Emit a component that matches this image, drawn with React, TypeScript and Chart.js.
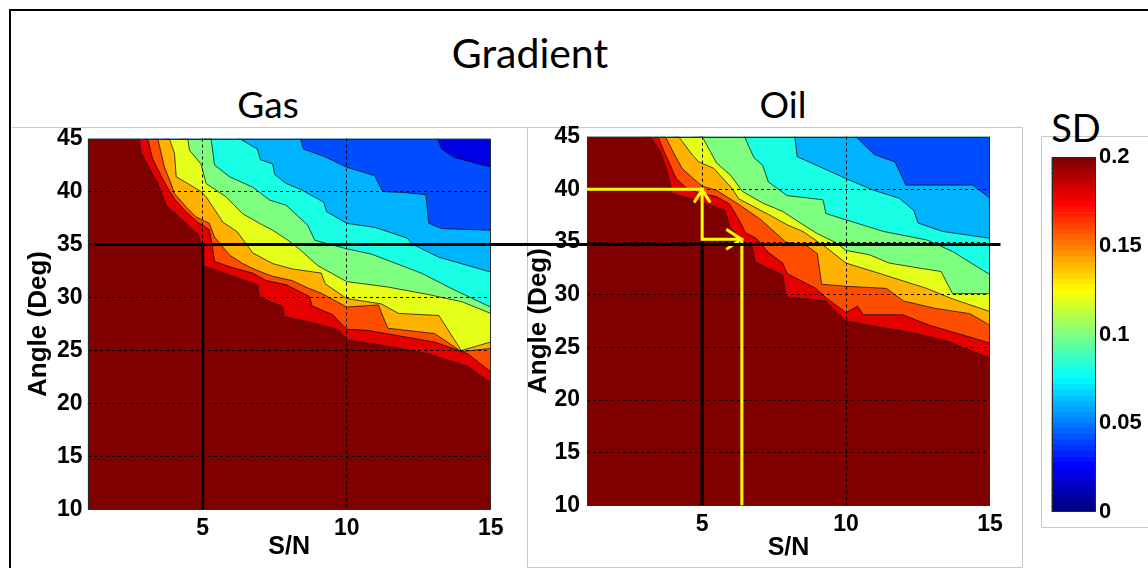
import React, { useEffect, useRef } from 'react';
import { Chart, registerables } from 'chart.js';

Chart.register(...registerables);

type Pt = [number, number];

// Axis ranges and ticks
const snMin = 1;
const snMax = 15;
const angleMin = 10;
const angleMax = 45;
const snTicks = [5, 10, 15];
const sdTicks = [0, 0.05, 0.1, 0.15, 0.2];
const sdMax = 0.2;

// Contour levels of SD (each boundary: angle above which SD falls below the level)
const contourLevels = [0.2, 0.18, 0.16, 0.14, 0.12, 0.1, 0.08, 0.06, 0.04];

// Gas: [S/N, angle] along each SD contour
const gasSd20: Pt[] = [[1, 46], [2.8, 45], [2.86, 43.7], [3.09, 42.5], [3.44, 40.8], [3.73, 38.7], [4.19, 37.6], [4.83, 36.0], [4.94, 35.1], [5.0, 33.0], [5.35, 32.7], [6.27, 31.8], [6.91, 31.2], [6.97, 30.1], [7.78, 29.1], [7.84, 28.2], [8.66, 27.7], [9.7, 27.0], [10.05, 26.0], [11.43, 25.4], [12.82, 24.7], [14.21, 23.5], [15, 22.0]];
const gasSd18: Pt[] = [[1, 46], [3.09, 45], [3.26, 43.1], [3.55, 41.5], [3.79, 40.3], [4.02, 39.3], [4.42, 38.1], [4.83, 37.1], [5.23, 36.4], [5.32, 35.1], [5.41, 33.4], [5.93, 32.9], [6.74, 32.3], [7.2, 31.6], [7.9, 31.2], [8.7, 30.1], [8.8, 29.2], [9.5, 28.4], [10.0, 27.0], [10.74, 26.9], [11.78, 26.4], [13.05, 25.8], [14.2, 24.7], [15, 23.0]];
const gasSd16: Pt[] = [[1, 46], [3.44, 45], [3.67, 42.3], [3.9, 40.75], [4.02, 39.8], [4.42, 38.55], [4.77, 37.6], [5.23, 37.0], [5.41, 35.7], [5.93, 34.0], [6.39, 33.2], [6.85, 32.6], [7.43, 32.0], [8.1, 31.6], [8.65, 30.9], [9.12, 30.4], [10.0, 29.1], [11.1, 29.3], [11.26, 28.2], [11.43, 27.1], [13.05, 26.6], [13.98, 24.9], [15, 25.2]];
const gasSd14: Pt[] = [[1, 46], [3.84, 45], [4.02, 43.6], [4.08, 41.4], [4.94, 40.0], [5.12, 39.5], [5.7, 37.1], [6.2, 36.2], [6.74, 34.2], [7.43, 33.2], [8.1, 32.7], [9.12, 32.3], [9.25, 31.3], [10.0, 29.9], [11.2, 29.4], [11.8, 28.5], [13.2, 28.3], [13.98, 25.0], [15, 25.8]];
const gasSd12: Pt[] = [[1, 46], [4.48, 45], [4.54, 43.9], [4.94, 42.6], [5.12, 40.75], [5.81, 39.5], [6.39, 37.9], [6.97, 37.0], [7.43, 36.35], [7.96, 35.4], [8.3, 34.7], [9.0, 33.0], [10.0, 31.5], [11.4, 31.0], [12.8, 30.3], [14.0, 29.6], [15, 28.5]];
const gasSd10: Pt[] = [[1, 46], [5.29, 45], [5.41, 42.5], [5.93, 41.4], [6.74, 40.4], [7.32, 39.2], [7.9, 38.7], [8.1, 38.2], [8.65, 36.8], [8.89, 35.4], [9.99, 34.6], [10.85, 34.1], [11.43, 33.5], [12.59, 32.3], [13.75, 30.7], [15, 29.1]];
const gasSd08: Pt[] = [[1, 46], [6.2, 45.3], [6.27, 45], [6.9, 44.0], [7.0, 43.0], [7.43, 42.6], [7.5, 41.6], [7.9, 40.75], [8.4, 40.2], [9.2, 39.0], [9.3, 38.1], [10.0, 37.0], [11.0, 36.6], [12.1, 35.6], [12.3, 35.0], [13.2, 33.8], [15, 32.4]];
const gasSd06: Pt[] = [[1, 46], [8.3, 45.5], [8.4, 45], [8.5, 44.0], [9.23, 43.3], [9.99, 42.3], [10.97, 41.5], [11.25, 40.0], [12.0, 39.9], [12.75, 39.7], [12.85, 37.0], [13.3, 36.5], [15, 36.35]];
const gasSd04: Pt[] = [[1, 46], [13.0, 46], [13.3, 44.0], [13.75, 43.2], [15, 42.3]];

// Oil: [S/N, angle] along each SD contour
const oilSd20: Pt[] = [[1, 46], [3.2, 45], [3.55, 43.6], [3.75, 42.0], [3.9, 40.5], [3.95, 39.6], [5.0, 38.8], [5.8, 38.0], [5.95, 36.5], [6.38, 35.0], [6.75, 34.5], [6.85, 33.1], [7.3, 32.5], [7.8, 31.9], [7.92, 29.8], [9.3, 29.4], [10.0, 27.5], [11.0, 27.0], [12.3, 26.4], [13.5, 25.6], [15, 24.0]];
const oilSd18: Pt[] = [[1, 46], [3.46, 45], [3.66, 43.7], [3.89, 42.3], [4.1, 41.0], [4.5, 40.0], [5.0, 39.6], [5.5, 39.3], [5.95, 38.6], [6.3, 37.0], [6.5, 35.9], [6.9, 35.3], [7.3, 34.0], [7.8, 33.0], [7.95, 32.0], [8.95, 30.6], [9.3, 29.7], [10.0, 28.3], [10.4, 28.9], [10.6, 28.1], [11.96, 28.1], [12.9, 27.1], [14.4, 25.9], [15, 25.4]];
const oilSd16: Pt[] = [[1, 46], [3.72, 45], [4.0, 43.5], [4.3, 42.0], [4.7, 41.0], [5.0, 40.3], [5.5, 39.9], [6.2, 38.7], [7.0, 37.2], [7.5, 36.0], [7.9, 35.0], [8.6, 34.7], [9.0, 33.9], [9.15, 31.0], [10.0, 30.8], [11.4, 30.6], [12.0, 29.4], [13.1, 28.7], [14.3, 28.2], [15, 27.1]];
const oilSd14: Pt[] = [[1, 46], [4.18, 45], [4.65, 43.3], [4.88, 42.6], [5.4, 42.0], [6.03, 40.1], [6.27, 39.1], [7.31, 37.6], [7.98, 36.6], [8.5, 36.0], [9.3, 34.5], [10.0, 33.0], [11.3, 31.9], [12.8, 30.6], [13.7, 29.6], [15, 28.4]];
const oilSd12: Pt[] = [[1, 46], [5.0, 45], [5.3, 43.5], [5.5, 42.5], [6.0, 41.3], [6.4, 39.8], [7.1, 38.7], [7.8, 37.9], [8.3, 37.0], [9.0, 35.8], [9.6, 35.0], [10.0, 34.2], [10.8, 33.8], [11.5, 33.0], [12.6, 32.5], [13.3, 32.2], [13.7, 30.1], [15, 30.1]];
const oilSd10: Pt[] = [[1, 46], [6.4, 45.5], [6.6, 44.2], [6.8, 43.0], [7.1, 42.3], [7.3, 40.7], [7.95, 39.4], [8.6, 39.2], [9.2, 39.0], [9.3, 37.7], [10.0, 37.1], [11.3, 36.0], [12.8, 35.2], [13.7, 34.1], [15, 31.9]];
const oilSd08: Pt[] = [[1, 46], [8.2, 45.5], [8.3, 43.1], [9.97, 41.05], [10.92, 39.94], [11.85, 39.15], [12.35, 38.0], [12.5, 36.8], [13.35, 36.0], [15, 35.35]];
const oilSd06: Pt[] = [[1, 46], [10.2, 45.5], [10.34, 45], [10.98, 43.3], [11.7, 42.6], [12.08, 40.4], [14.4, 40.4], [15, 39.15]];

// Reference guides: 35 deg / S/N 5 (black), oil read-off path (yellow)
const guideAngle = 35;
const guideSn = 5;
const gasGuideH: Pt[] = [[1.23, guideAngle], [32.7, guideAngle]];
const gasGuideV: Pt[] = [[guideSn, guideAngle], [guideSn, angleMin]];
const oilGuideV: Pt[] = [[guideSn, guideAngle], [guideSn, angleMin]];
const oilPath: Pt[] = [[1, 40], [5, 40], [5, 35.25], [6.38, 35.25], [6.38, 10]];
const oilArrowUp: Pt[] = [[4.72, 38.75], [5, 39.95], [5.28, 38.75]];
const oilArrowRight: Pt[] = [[5.84, 36.2], [6.36, 35.25], [5.84, 34.3]];

// Colour bar resolution
const colorSteps = 64;

function clamp01(v: number) {
  return Math.max(0, Math.min(1, v));
}

function jet(t: number) {
  const u = clamp01(t);
  const r = clamp01(Math.min(4 * u - 1.5, -4 * u + 4.5));
  const g = clamp01(Math.min(4 * u - 0.5, -4 * u + 3.5));
  const b = clamp01(Math.min(4 * u + 0.5, -4 * u + 2.5));
  return `rgb(${Math.round(r * 255)},${Math.round(g * 255)},${Math.round(b * 255)})`;
}

const toXY = (pts: Pt[]) => pts.map(([x, y]) => ({ x, y }));

const sansFamily = "'Liberation Sans', Arial, sans-serif";
const axisFont = { family: sansFamily, weight: 'bold' as const, size: 23 };
const xTitleFont = { family: sansFamily, weight: 'bold' as const, size: 25 };
const yTitleFont = { family: sansFamily, weight: 'bold' as const, size: 26 };
const hidden = 'rgba(0,0,0,0)';

const framePlugin = {
  id: 'plotFrame',
  afterDraw(chart: any) {
    const { ctx, chartArea: a } = chart;
    ctx.save();
    ctx.strokeStyle = '#2a2a2a';
    ctx.lineWidth = 1;
    ctx.strokeRect(Math.round(a.left) + 0.5, Math.round(a.top) + 0.5, Math.round(a.right) - Math.round(a.left) - 1, Math.round(a.bottom) - Math.round(a.top) - 1);
    ctx.restore();
  },
};

type Guide = { pts: Pt[]; color: string; width: number; free?: boolean };
type Pad = { left: number; top: number; right: number; bottom: number };

// Shared axis set-up; the overlay variant keeps the same geometry but draws no axis ink
function panelScales(xTitlePad: number, tickPad: number, overlay: boolean) {
  const edgeAware = (min: number, max: number) => (c: any) =>
    c.tick && (c.tick.value === min || c.tick.value === max) ? hidden : '#000';
  return {
    x: {
      type: 'linear',
      min: snMin,
      max: snMax,
      afterBuildTicks: (s: any) => {
        s.ticks = snTicks.map((v) => ({ value: v }));
      },
      afterFit: (s: any) => {
        s.height = 58;
      },
      grid: { display: !overlay, color: edgeAware(snMin, snMax), lineWidth: 1, drawTicks: false, z: 1 },
      border: { display: false, dash: [3, 3] },
      ticks: { font: axisFont, color: overlay ? hidden : '#000', padding: 5, maxRotation: 0, autoSkip: false },
      title: { display: true, text: 'S/N', font: xTitleFont, color: overlay ? hidden : '#000', padding: { top: 0, bottom: xTitlePad } },
    },
    y: {
      type: 'linear',
      min: angleMin,
      max: angleMax,
      afterFit: (s: any) => {
        s.width = 64;
      },
      grid: { display: !overlay, color: edgeAware(angleMin, angleMax), lineWidth: 1, drawTicks: false, z: 1 },
      border: { display: false, dash: [3, 3] },
      ticks: { stepSize: 5, font: axisFont, color: overlay ? hidden : '#000', padding: tickPad },
      title: { display: true, text: 'Angle (Deg)', font: yTitleFont, color: overlay ? hidden : '#000', padding: { top: 0, bottom: 0 } },
    },
  };
}

function baseOptions(pad: Pad, scales: any) {
  return {
    animation: false,
    responsive: false,
    events: [],
    layout: { padding: pad },
    elements: { point: { radius: 0 }, line: { tension: 0 } },
    plugins: { legend: { display: false }, tooltip: { enabled: false } },
    scales,
  };
}

function contourConfig(bounds: Pt[][], pad: Pad, xTitlePad: number, tickPad: number): any {
  const datasets: any[] = [
    { data: toXY(bounds[0]), fill: 'start', backgroundColor: jet(1), borderWidth: 0, order: 100 },
  ];
  bounds.forEach((b, i) => {
    datasets.push({
      data: toXY(b),
      fill: 'end',
      backgroundColor: jet((contourLevels[i] - 0.02) / sdMax),
      borderColor: 'rgba(0,0,0,0.7)',
      borderWidth: 1,
      order: 90 - i,
    });
  });
  return {
    type: 'line',
    data: { datasets },
    options: baseOptions(pad, panelScales(xTitlePad, tickPad, false)),
    plugins: [framePlugin],
  };
}

function guideConfig(guides: Guide[], pad: Pad, xTitlePad: number, tickPad: number): any {
  const datasets = guides.map((g) => ({
    data: toXY(g.pts),
    fill: false,
    borderColor: g.color,
    borderWidth: g.width,
    clip: g.free ? false : undefined,
    borderCapStyle: 'butt',
    borderJoinStyle: 'miter',
  }));
  return {
    type: 'line',
    data: { datasets },
    options: baseOptions(pad, panelScales(xTitlePad, tickPad, true)),
  };
}

function colorbarConfig(): any {
  const datasets = Array.from({ length: colorSteps }, (_, i) => ({
    data: [sdMax / colorSteps],
    backgroundColor: jet(i / (colorSteps - 1)),
    borderWidth: 0,
    barPercentage: 1,
    categoryPercentage: 1,
    stack: 'sd',
  }));
  return {
    type: 'bar',
    data: { labels: ['SD'], datasets },
    options: {
      animation: false,
      responsive: false,
      events: [],
      layout: { padding: { left: 1051.5, top: 157, right: 0, bottom: 56 } },
      plugins: { legend: { display: false }, tooltip: { enabled: false } },
      scales: {
        x: { display: false, stacked: true },
        y: {
          position: 'right',
          stacked: true,
          min: 0,
          max: sdMax,
          afterBuildTicks: (s: any) => {
            s.ticks = sdTicks.map((v) => ({ value: v }));
          },
          afterFit: (s: any) => {
            s.width = 52;
          },
          grid: { display: false, drawTicks: false },
          border: { display: false },
          ticks: {
            font: { ...axisFont, size: 22 },
            color: '#000',
            padding: 3,
            callback: (v: number) => String(Number(v.toFixed(2))),
          },
        },
      },
    },
    plugins: [framePlugin],
  };
}

const textBase: React.CSSProperties = {
  position: 'absolute',
  transform: 'translate(-50%, -50%)',
  fontFamily: "Lato, 'Open Sans', sans-serif",
  lineHeight: 1,
  whiteSpace: 'nowrap',
  color: '#000',
};

const canvasStyle: React.CSSProperties = { position: 'absolute', left: 0, top: 0 };

const gasPad: Pad = { left: 23.5, top: 138.5, right: 657.3, bottom: 0.5 };
const oilPad: Pad = { left: 523, top: 136.6, right: 158, bottom: 4.5 };

export default function App() {
  const oilRef = useRef<HTMLCanvasElement>(null);
  const oilGuideRef = useRef<HTMLCanvasElement>(null);
  const gasRef = useRef<HTMLCanvasElement>(null);
  const gasGuideRef = useRef<HTMLCanvasElement>(null);
  const barRef = useRef<HTMLCanvasElement>(null);

  useEffect(() => {
    const gasBounds = [gasSd20, gasSd18, gasSd16, gasSd14, gasSd12, gasSd10, gasSd08, gasSd06, gasSd04];
    const oilBounds = [oilSd20, oilSd18, oilSd16, oilSd14, oilSd12, oilSd10, oilSd08, oilSd06];

    const charts = [
      new Chart(oilRef.current as HTMLCanvasElement, contourConfig(oilBounds, oilPad, 0.1, 7)),
      new Chart(
        oilGuideRef.current as HTMLCanvasElement,
        guideConfig(
          [
            { pts: oilGuideV, color: '#000', width: 3 },
            { pts: oilPath, color: '#ffff00', width: 3 },
            { pts: oilArrowUp, color: '#ffff00', width: 3 },
            { pts: oilArrowRight, color: '#ffff00', width: 3 },
          ],
          oilPad,
          0.1,
          7
        )
      ),
      new Chart(gasRef.current as HTMLCanvasElement, contourConfig(gasBounds, gasPad, 5.1, 5)),
      new Chart(
        gasGuideRef.current as HTMLCanvasElement,
        guideConfig(
          [
            { pts: gasGuideV, color: '#000', width: 3 },
            { pts: gasGuideH, color: '#000', width: 3, free: true },
          ],
          gasPad,
          5.1,
          5
        )
      ),
      new Chart(barRef.current as HTMLCanvasElement, colorbarConfig()),
    ];
    return () => {
      charts.forEach((c) => c.destroy());
    };
  }, []);

  return (
    <div style={{ position: 'fixed', left: 0, top: 0, width: 1148, height: 568, overflow: 'hidden', background: '#fff' }}>
      <div style={{ position: 'absolute', left: 9, top: 9, width: 1400, height: 900, border: '2px solid #000' }} />
      <div style={{ position: 'absolute', left: 12, top: 127, width: 1010, height: 0, borderTop: '1px solid #c8c8c8' }} />
      <div style={{ position: 'absolute', left: 527, top: 127, width: 494, height: 439, border: '1px solid #c8c8c8' }} />
      <div style={{ position: 'absolute', left: 1041, top: 136, width: 200, height: 390, border: '1px solid #c8c8c8' }} />
      <div style={{ ...textBase, left: 530, top: 52, fontSize: 41 }}>Gradient</div>
      <div style={{ ...textBase, left: 268, top: 103, fontSize: 37 }}>Gas</div>
      <div style={{ ...textBase, left: 783, top: 103, fontSize: 37 }}>Oil</div>
      <div style={{ ...textBase, left: 1076, top: 127, fontSize: 38 }}>SD</div>
      <canvas ref={oilRef} width={1148} height={568} style={canvasStyle} />
      <canvas ref={oilGuideRef} width={1148} height={568} style={canvasStyle} />
      <canvas ref={gasRef} width={1148} height={568} style={canvasStyle} />
      <canvas ref={gasGuideRef} width={1148} height={568} style={canvasStyle} />
      <canvas ref={barRef} width={1148} height={568} style={canvasStyle} />
    </div>
  );
}
